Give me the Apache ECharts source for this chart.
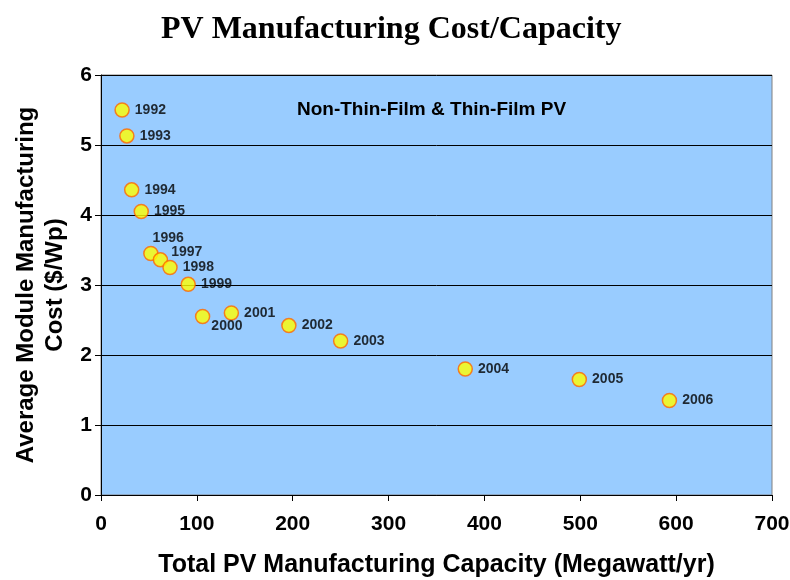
<!doctype html>
<html>
  <head>
    <meta charset="utf-8">
    <title>PV Manufacturing Cost/Capacity</title>
    <script src="https://cdn.jsdelivr.net/npm/echarts@6/dist/echarts.min.js"></script>
    <style>
      html, body { margin: 0; padding: 0; background: #fff; }
      #main { width: 790px; height: 580px; }
    </style>
  </head>
  <body>
    <div id="main"></div>
    <script type="text/javascript">
      // data
      var years = ['1992', '1993', '1994', '1995', '1996', '1997', '1998', '1999',
                   '2000', '2001', '2002', '2003', '2004', '2005', '2006'];
      var capacity = [22, 27, 32, 42, 52, 62, 72, 91, 106, 136, 196, 250, 380, 499, 593];
      var cost = [5.5, 5.13, 4.36, 4.05, 3.45, 3.36, 3.25, 3.01, 2.55, 2.6, 2.42, 2.2, 1.8, 1.65, 1.35];
      var xTicks = [0, 100, 200, 300, 400, 500, 600, 700];
      var yTicks = [0, 1, 2, 3, 4, 5, 6];

      var font = 'Arial, "Liberation Sans", sans-serif';

      // most labels sit to the right, a few are nudged like in the original
      var points = years.map(function (y, i) {
        var p = { value: [capacity[i], cost[i]], name: y };
        if (y === '1996') p.label = { offset: [-11, -15] };
        if (y === '1997') p.label = { offset: [-2, -8] };
        if (y === '2000') p.label = { offset: [-4, 10] };
        return p;
      });

      var myChart = echarts.init(document.getElementById('main'));
      var option = {
        backgroundColor: '#ffffff',
        title: {
          text: 'PV Manufacturing Cost/Capacity',
          left: 156,
          top: 9,
          textStyle: {
            fontFamily: '"Times New Roman", "Liberation Serif", serif',
            fontWeight: 'bold',
            fontSize: 32,
            color: '#000'
          }
        },
        grid: {
          left: 101,
          right: 18,
          top: 75,
          bottom: 85,
          outerBoundsMode: 'none',
          show: true,
          backgroundColor: '#99ccff',
          borderColor: '#808080',
          borderWidth: 1
        },
        xAxis: {
          type: 'value',
          min: xTicks[0],
          max: xTicks[xTicks.length - 1],
          interval: 100,
          name: 'Total PV Manufacturing Capacity (Megawatt/yr)',
          nameLocation: 'middle',
          nameGap: 58,
          nameTextStyle: { fontFamily: font, fontWeight: 'bold', fontSize: 25, color: '#000' },
          axisLine: { show: true, lineStyle: { color: '#000', width: 1 } },
          axisTick: { show: true, inside: false, length: 6, lineStyle: { color: '#000' } },
          axisLabel: { fontFamily: font, fontWeight: 'bold', fontSize: 21, color: '#000', margin: 19 },
          splitLine: { show: false }
        },
        yAxis: {
          type: 'value',
          min: yTicks[0],
          max: yTicks[yTicks.length - 1],
          interval: 1,
          name: 'Average Module Manufacturing\nCost ($/Wp)',
          nameLocation: 'middle',
          nameGap: 31,
          nameTextStyle: { fontFamily: font, fontWeight: 'bold', fontSize: 24, color: '#000', lineHeight: 29 },
          axisLine: { show: true, lineStyle: { color: '#000', width: 1 } },
          axisTick: { show: true, inside: false, length: 6, lineStyle: { color: '#000' } },
          axisLabel: { fontFamily: font, fontWeight: 'bold', fontSize: 21, color: '#000', margin: 9 },
          splitLine: { show: true, lineStyle: { color: '#000', width: 1 } }
        },
        graphic: [{
          type: 'text',
          left: 297,
          top: 100,
          style: {
            text: 'Non-Thin-Film & Thin-Film PV',
            fontFamily: font,
            fontWeight: 'bold',
            fontSize: 19,
            fill: '#000'
          }
        }],
        series: [{
          type: 'scatter',
          symbol: 'circle',
          symbolSize: 14,
          itemStyle: { color: '#ffff00', borderColor: '#ff6600', borderWidth: 1.5 },
          label: {
            show: true,
            position: 'right',
            distance: 5,
            formatter: '{b}',
            fontFamily: font,
            fontWeight: 'bold',
            fontSize: 14,
            color: '#000'
          },
          data: points
        }]
      };
      myChart.setOption(option);
    </script>
  </body>
</html>
